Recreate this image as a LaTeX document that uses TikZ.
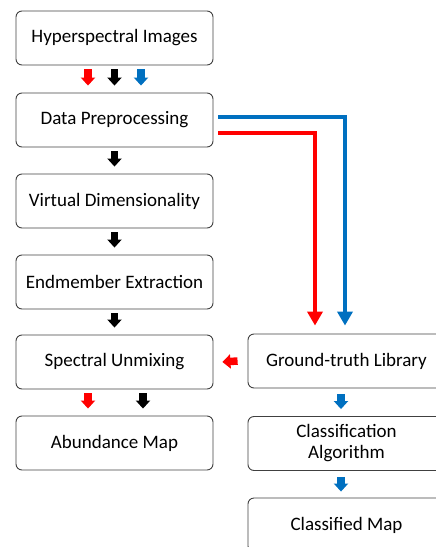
\documentclass[tikz,border=0pt]{standalone}
\usepackage{fontspec}
\setmainfont{Carlito}
\usetikzlibrary{arrows.meta}
\definecolor{ublue}{RGB}{0,112,192}
\definecolor{ured}{RGB}{255,0,0}
\begin{document}
\begin{tikzpicture}[x=1pt, y=-1pt]

      \tikzset{stage/.style={draw=black!75, line width=0.9pt, rounded corners=6pt, minimum width=197pt, minimum height=54pt, align=center, font=\fontsize{19}{21}\selectfont, inner sep=2pt}}
      \tikzset{blk/.style={line width=7.5pt, -{Triangle[length=8pt, width=14pt]}}}
      \tikzset{feed/.style={line width=4pt, -{Triangle[length=14pt, width=15pt]}}}
      \useasboundingbox (0,0) rectangle (436,547);
      \clip (0,0) rectangle (436,547);
%% Boxes
      	\node[stage] (hsi) at (114.5,38) {Hyperspectral Images};
      	\node[stage] (pre) at (114.5,120) {Data Preprocessing};
      	\node[stage] (vd)  at (114.5,201) {Virtual Dimensionality};
      	\node[stage] (ee)  at (114.5,282) {Endmember Extraction};
      	\node[stage] (su)  at (114.5,362) {Spectral Unmixing};
      	\node[stage] (am)  at (114.5,443) {Abundance Map};
      	\node[stage] (gt)  at (346.5,361) {Ground-truth Library};
      	\node[stage] (ca)  at (346.5,443.5) {Classification\\Algorithm};
      	\node[stage] (cm)  at (346.5,525) {Classified Map};
%Block arrows
		\draw[blk, ured]  ([xshift=-26.5pt,yshift=-4pt]hsi.south) -- ([xshift=-26.5pt,yshift=7pt]pre.north);
		\draw[blk, black] ([yshift=-4pt]hsi.south) -- ([yshift=7pt]pre.north);
		\draw[blk, ublue] ([xshift=26.5pt,yshift=-4pt]hsi.south) -- ([xshift=26.5pt,yshift=7pt]pre.north);
		\draw[blk, black] ([yshift=-4pt]pre.south) -- ([yshift=7pt]vd.north);
		\draw[blk, black] ([yshift=-4pt]vd.south) -- ([yshift=7pt]ee.north);
		\draw[blk, black] ([yshift=-4pt]ee.south) -- ([yshift=7pt]su.north);
		\draw[blk, ured]  ([xshift=-26.5pt,yshift=-4pt]su.south) -- ([xshift=-26.5pt,yshift=7pt]am.north);
		\draw[blk, black] ([xshift=28.5pt,yshift=-4pt]su.south) -- ([xshift=28.5pt,yshift=7pt]am.north);
		\draw[blk, ured]  ([xshift=-10pt]gt.west) -- ([xshift=9pt]su.east);
		\draw[blk, ublue] ([xshift=-5.5pt,yshift=-6pt]gt.south) -- ([xshift=-5.5pt,yshift=7pt]ca.north);
		\draw[blk, ublue] ([xshift=-5.5pt,yshift=-6pt]ca.south) -- ([xshift=-5.5pt,yshift=6pt]cm.north);
%Library feeds
		\draw[feed, ublue] ([xshift=5pt,yshift=3pt]pre.east) -| ([xshift=-1.5pt,yshift=8pt]gt.north);
		\draw[feed, ured]  ([xshift=5pt,yshift=-12.5pt]pre.east) -| ([xshift=-31.5pt,yshift=8pt]gt.north);

	\end{tikzpicture}
\end{document}
